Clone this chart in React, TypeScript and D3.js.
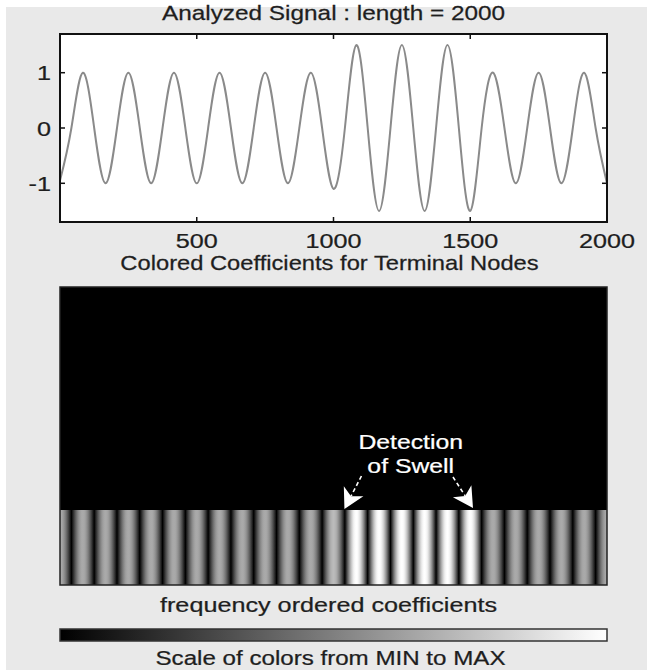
import React from "react";
import * as d3 from "d3";

// ---- data ----
const signalLength = 2000;
// key samples of the analyzed signal, every quarter period (2000/48 samples)
const signalValues = [
  -0.95, 0, 1, 0, -1, 0, 1, 0, -1, 0, 1, 0, -1, 0, 1, 0, -1, 0, 1, 0, -1, 0, 1, 0,
  -1.1, 0, 1.5, 0, -1.5, 0, 1.5, 0, -1.5, 0, 1.5, 0, -1.5, 0, 1, 0, -1, 0, 1, 0, -1, 0, 1, 0, -1,
];
// magnitude of the terminal-node coefficients (one band per half period)
const coefficientPeaks = [
  1, 1, 1, 1, 1, 1, 1, 1, 1, 1, 1, 1, 1.1, 1.5, 1.5, 1.5, 1.5, 1.5, 1.5, 1, 1, 1, 1, 1, 1,
];
const xTicks = [500, 1000, 1500, 2000];
const yTicks = [-1, 0, 1];
const swellStart = 1040;
const swellEnd = 1510;
const colorMin = 0;
const colorMax = 1.5;

const W = 647;
const H = 670;

const font = "'Liberation Sans', Arial, sans-serif";
const textColor = "#1e1e1e";

function Label(props: {
  x: number;
  y: number;
  text: string | number;
  size?: number;
  sx?: number;
  anchor?: "start" | "middle" | "end";
  fill?: string;
}) {
  const { x, y, text, size = 21, sx = 1.16, anchor = "middle", fill = textColor } = props;
  return (
    <text
      transform={`translate(${x},${y}) scale(${sx},1)`}
      textAnchor={anchor}
      fontSize={size}
      fill={fill}
      stroke={fill}
      strokeWidth={0.25}
    >
      {text}
    </text>
  );
}

export default function App() {
  const left = 60;
  const right = 607;
  const top1 = 34;
  const bot1 = 222;
  const x = d3.scaleLinear().domain([0, signalLength]).range([left, right]);
  const y = d3.scaleLinear().domain([-1.7, 1.7]).range([bot1, top1]);

  const step = signalLength / (signalValues.length - 1);
  const pts: [number, number][] = signalValues.map((v, i) => [i * step, v]);
  const line = d3
    .line<[number, number]>()
    .x((d) => x(d[0]))
    .y((d) => y(d[1]))
    .curve(d3.curveNatural);

  const panelTop = 287;
  const panelBot = 585;
  const stripeTop = 510;

  const gray = d3.scaleLinear<string>().domain([colorMin, colorMax]).range(["#000000", "#ffffff"]);
  const bandStep = signalLength / (coefficientPeaks.length - 1);
  const profile = d3.range(0, 1.0001, 0.0625);

  const arrow = (tipX: number, tipY: number, tailX: number, tailY: number, key: string) => {
    const dx = tipX - tailX;
    const dy = tipY - tailY;
    const len = Math.hypot(dx, dy);
    const ux = dx / len;
    const uy = dy / len;
    const px = -uy;
    const py = ux;
    const hl = 20;
    const hw = 11;
    const bx = tipX - ux * hl;
    const by = tipY - uy * hl;
    const nx = tipX - ux * hl * 0.72;
    const ny = tipY - uy * hl * 0.72;
    const head = `M${tipX},${tipY} L${bx + px * hw},${by + py * hw} L${nx},${ny} L${bx - px * hw},${by - py * hw} Z`;
    return (
      <g key={key}>
        <line x1={tailX} y1={tailY} x2={nx} y2={ny} stroke="#fff" strokeWidth={1.6} strokeDasharray="4,3" />
        <path d={head} fill="#fff" />
      </g>
    );
  };

  const labelX = x((swellStart + swellEnd) / 2) + 2;
  const mid = (left + right) / 2;

  return (
    <svg width={W} height={H} style={{ position: "absolute", left: 0, top: 0 }} fontFamily={font}>
      <defs>
        <clipPath id="panelClip">
          <rect x={left} y={panelTop} width={right - left} height={panelBot - panelTop} />
        </clipPath>
        {coefficientPeaks.map((a, i) => (
          <linearGradient key={i} id={`band${i}`} x1="0" x2="1" y1="0" y2="0">
            {profile.map((u, j) => (
              <stop key={j} offset={u} stopColor={gray(a * Math.sin(Math.PI * u))} />
            ))}
          </linearGradient>
        ))}
        <linearGradient id="cbar" x1="0" x2="1" y1="0" y2="0">
          <stop offset="0" stopColor={gray(colorMin)} />
          <stop offset="1" stopColor={gray(colorMax)} />
        </linearGradient>
      </defs>

      <rect x={0} y={0} width={W} height={H} fill="#ffffff" />
      <rect x={6} y={7} width={W - 6} height={H - 7} fill="#e9e9e9" />

      {/* ---- top plot ---- */}
      <Label x={mid} y={20} text="Analyzed Signal : length = 2000" />
      <rect x={left} y={top1} width={right - left} height={bot1 - top1} fill="#fff" />
      <path d={line(pts) || ""} fill="none" stroke="#8a8a8a" strokeWidth={2} />
      <rect x={left} y={top1} width={right - left} height={bot1 - top1} fill="none" stroke="#111" strokeWidth={2} />
      {xTicks.map((t) => (
        <g key={t}>
          <line x1={x(t)} x2={x(t)} y1={bot1} y2={bot1 - 5} stroke="#111" strokeWidth={1.5} />
          <line x1={x(t)} x2={x(t)} y1={top1} y2={top1 + 5} stroke="#111" strokeWidth={1.5} />
          <Label x={x(t)} y={248} text={t} sx={1.2} />
        </g>
      ))}
      {yTicks.map((t) => (
        <g key={t}>
          <line x1={left} x2={left + 5} y1={y(t)} y2={y(t)} stroke="#111" strokeWidth={1.5} />
          <line x1={right} x2={right - 5} y1={y(t)} y2={y(t)} stroke="#111" strokeWidth={1.5} />
          <Label x={51} y={y(t) + 7.5} text={t} sx={1.2} anchor="end" />
        </g>
      ))}

      {/* ---- coefficients panel ---- */}
      <Label x={mid - 4} y={270} text="Colored Coefficients for Terminal Nodes" sx={1.13} />
      <rect x={left} y={panelTop} width={right - left} height={panelBot - panelTop} fill="#000" />
      <g clipPath="url(#panelClip)">
        {coefficientPeaks.map((a, i) => {
          const c = i * bandStep;
          return (
            <rect
              key={i}
              x={x(c - bandStep / 2)}
              y={stripeTop}
              width={x(c + bandStep / 2) - x(c - bandStep / 2)}
              height={panelBot - stripeTop}
              fill={`url(#band${i})`}
            />
          );
        })}
      </g>
      <rect x={left} y={panelTop} width={right - left} height={panelBot - panelTop} fill="none" stroke="#222" strokeWidth={1.5} />

      <Label x={labelX} y={449} text="Detection" sx={1.18} fill="#fff" />
      <Label x={labelX} y={473} text="of Swell" sx={1.18} fill="#fff" />
      {arrow(x(swellStart), stripeTop - 1, x(swellStart) + 17, 476, "a1")}
      {arrow(x(swellEnd), stripeTop - 2, x(swellEnd) - 20, 477, "a2")}

      <Label x={mid - 5} y={612} text="frequency ordered coefficients" sx={1.2} />

      {/* ---- colour scale ---- */}
      <rect x={left} y={629} width={right - left} height={12} fill="url(#cbar)" stroke="#333" strokeWidth={1.5} />
      <Label x={mid - 3} y={665} text="Scale of colors from MIN to MAX" sx={1.15} />
    </svg>
  );
}
